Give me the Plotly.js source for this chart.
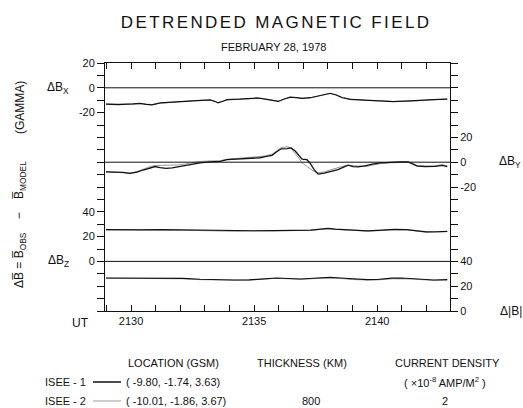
<!DOCTYPE html>
<html><head><meta charset="utf-8">
<script src="https://cdn.plot.ly/plotly-3.0.1.min.js"></script>
<style>html,body{margin:0;padding:0;background:#fff}#chart{width:523px;height:408px}.gtitle{letter-spacing:2.4px}</style>
</head><body><div id="chart"></div><script>
// time in minutes after 21:00 UT
const t_bx = [28.98,29.47,30.08,30.37,30.61,30.85,31.18,31.59,32.11,32.60,33.21,33.41,33.54,33.70,33.90,34.43,35.12,35.33,35.53,35.73,35.98,36.22,36.46,36.71,36.95,37.28,37.60,37.89,38.09,38.33,38.58,38.90,39.59,40.12,40.65,41.34,41.75,42.28,42.85];
const bx_isee1 = [-13.2,-13.5,-13.0,-12.5,-13.3,-13.8,-12.2,-11.8,-10.8,-10.4,-9.8,-11.0,-12.2,-11.0,-9.6,-9.2,-8.2,-8.8,-9.5,-10.5,-11.0,-9.0,-7.5,-8.0,-8.6,-8.0,-6.8,-5.2,-4.4,-5.8,-8.0,-9.3,-10.0,-10.6,-11.2,-10.6,-10.0,-9.5,-9.2];
const bx_isee2 = [-13.0,-13.3,-13.2,-12.8,-13.1,-13.5,-12.5,-11.6,-11.0,-10.2,-10.0,-10.8,-11.8,-11.2,-9.8,-9.0,-8.4,-8.6,-9.3,-10.2,-10.8,-9.3,-7.8,-7.8,-8.4,-8.2,-7.0,-5.5,-4.7,-5.5,-7.6,-9.0,-10.2,-10.4,-11.0,-10.8,-10.2,-9.3,-9.0];

const t_by = [28.98,29.35,29.67,29.96,30.24,30.49,30.77,30.98,31.18,31.42,31.67,31.91,32.20,32.48,32.80,33.21,33.62,33.90,34.35,34.84,35.24,35.45,35.73,35.89,36.10,36.34,36.50,36.67,36.83,36.95,37.15,37.28,37.44,37.60,37.85,38.09,38.41,38.66,38.82,39.02,39.23,39.55,39.80,40.12,40.53,40.93,41.26,41.42,41.63,41.95,42.36,42.64,42.85];
const by_isee1 = [-7.8,-7.9,-8.2,-9.0,-8.0,-6.3,-4.5,-3.5,-4.3,-5.0,-4.6,-3.6,-2.5,-1.5,-0.5,0.3,0.6,2.0,2.6,3.0,3.6,4.5,5.5,8.0,10.8,11.0,11.5,9.0,5.5,2.5,2.0,-1.0,-6.0,-9.6,-8.8,-7.8,-6.0,-3.8,-2.4,-3.6,-3.8,-2.8,-1.5,-0.6,0.0,0.2,0.3,-1.5,-3.2,-3.5,-3.4,-2.6,-3.6];
const by_isee2 = [-7.8,-8.0,-8.2,-8.8,-7.5,-5.5,-3.6,-2.6,-2.6,-2.8,-2.6,-2.2,-1.5,-0.6,0.6,1.0,1.2,2.4,3.0,3.6,4.2,5.0,6.5,9.0,11.8,12.5,11.5,7.0,2.5,-0.5,-3.5,-5.5,-7.5,-8.5,-7.8,-6.2,-4.2,-3.0,-2.6,-2.8,-3.2,-3.4,-2.4,-1.2,-0.5,-0.2,0.0,-1.0,-2.6,-3.0,-2.8,-2.0,-3.0];

const t_bz = [28.98,29.6,30.4,31.2,32.0,32.8,33.4,34.2,35.0,35.8,36.6,37.3,37.6,38.0,38.3,38.7,39.2,39.6,40.2,40.7,41.2,41.6,42.0,42.4,42.85];
const bz_isee1 = [25.6,25.8,25.5,25.7,25.4,25.2,24.8,24.6,24.7,24.8,25.0,25.2,25.9,26.6,26.0,25.6,24.8,24.6,25.2,25.8,25.6,24.8,23.8,23.9,24.2];
const bz_isee2 = [25.4,25.6,25.6,25.5,25.2,24.8,24.4,24.3,24.5,24.6,24.8,25.0,25.6,26.3,25.8,25.2,24.6,24.4,24.9,25.5,25.4,24.5,23.5,23.6,24.0];

const t_bt = [28.98,29.8,30.6,31.4,32.1,32.8,33.5,34.2,34.8,35.4,35.9,36.4,36.9,37.4,37.8,38.1,38.5,39.0,39.6,40.0,40.6,41.0,41.4,41.9,42.3,42.85];
const bt_isee1 = [26.6,26.5,26.4,26.4,26.3,25.6,25.2,25.0,25.1,25.8,26.6,26.2,25.8,26.4,26.7,27.1,26.6,25.8,25.3,25.4,26.5,26.6,26.2,25.5,25.0,25.3];
const bt_isee2 = [26.4,26.3,26.3,26.2,26.0,25.3,24.9,24.8,25.0,25.6,26.3,26.0,25.5,26.1,26.5,26.8,26.3,25.4,25.0,25.1,26.0,26.2,25.8,25.2,24.7,25.0];

const xTickVals = [30,35,40];
const xTickLabels = ['2130','2135','2140'];
const bxTicks = [20,0,-20], byTicks = [20,0,-20], bzTicks = [40,20,0], btTicks = [40,20,0];

const satellites = ['ISEE - 1','ISEE - 2'];
const locations = ['( -9.80, -1.74, 3.63)','( -10.01, -1.86, 3.67)'];
const thickness = ['800'];
const density = ['2'];

const FONT = 'Liberation Sans, Arial, Helvetica, sans-serif';
const L=105,R=450,T=63,B=311;
const PX = x => (x-L)/(R-L);
const PY = y => (B-y)/(B-T);

function range(a,b,s){const o=[];for(let v=a;v<=b+1e-9;v+=s)o.push(Math.round(v*100)/100);return o;}
const without = (vals, excl) => vals.filter(v=>!excl.includes(v));

const xMinor = without(range(29,42,1), xTickVals);
const ylMinor = without(range(-180,20,10), bxTicks);
const yrMinor = without(range(-120,80,10), byTicks);

const gray = '#9a9a9a', black = '#111';
function tr(x,y,ya,c,w){return {x:x,y:y,yaxis:ya,type:'scatter',mode:'lines',line:{color:c,width:w},hoverinfo:'skip',showlegend:false};}
const data = [
  tr(t_bx,bx_isee2,'y',gray,1), tr(t_bx,bx_isee1,'y',black,1.2),
  tr(t_by,by_isee2,'y2',gray,1), tr(t_by,by_isee1,'y2',black,1.3),
  tr(t_bz,bz_isee2,'y3',gray,1), tr(t_bz,bz_isee1,'y3',black,1.2),
  tr(t_bt,bt_isee2,'y4',gray,1), tr(t_bt,bt_isee1,'y4',black,1.2)
];

const tf = {family:FONT,size:11,color:'#111'};
const baseY = {showgrid:false,zeroline:false,ticks:'outside',ticklen:7,tickwidth:1,tickcolor:'#111',tickfont:tf,tickmode:'array',fixedrange:true};

function ann(x,y,text,opt){return Object.assign({xref:'paper',yref:'paper',x:PX(x),y:PY(y),text:text,showarrow:false,font:{family:FONT,size:11,color:'#111'},xanchor:'center',yanchor:'middle'},opt||{});}
const f12 = {family:FONT,size:12,color:'#111'};

const nb='\u00A0';
const annotations = [
  ann(273,47,'FEBRUARY 28, 1978'),
  {xref:'paper',yref:'y',x:PX(58),y:0,text:'ΔB<sub>X</sub>',showarrow:false,xanchor:'center',yanchor:'middle',font:f12},
  {xref:'paper',yref:'y3',x:PX(58),y:0,text:'ΔB<sub>Z</sub>',showarrow:false,xanchor:'center',yanchor:'middle',font:f12},
  {xref:'paper',yref:'y2',x:PX(510),y:0,text:'ΔB<sub>Y</sub>',showarrow:false,xanchor:'center',yanchor:'middle',font:f12},
  {xref:'paper',yref:'y4',x:PX(511),y:0,text:'Δ|B|',showarrow:false,xanchor:'center',yanchor:'middle',font:f12},
  ann(20,108,'(GAMMA)',{textangle:-90,font:f12}),
  ann(20,225,'ΔB\u0305 = B\u0305<sub>OBS</sub>'+nb+nb+nb+nb+'−'+nb+nb+nb+nb+'B\u0305<sub>MODEL</sub>',{textangle:-90,font:f12}),
  ann(80,323,'UT',{font:f12}),
  ann(173,363,'LOCATION (GSM)'),
  ann(302,363,'THICKNESS (KM)'),
  ann(447,363,'CURRENT DENSITY'),
  ann(65,382,satellites[0]),
  ann(65,401,satellites[1]),
  ann(124,382,locations[0],{xanchor:'left'}),
  ann(124,401,locations[1],{xanchor:'left'}),
  ann(445,382,'( ×10<sup>-8</sup> AMP/M<sup>2</sup> )'),
  ann(311,401,thickness[0]),
  ann(445,401,density[0])
];

const shapes = [
  {type:'line',xref:'paper',x0:0,x1:1,yref:'y',y0:0,y1:0,line:{color:'#111',width:1}},
  {type:'line',xref:'paper',x0:0,x1:1,yref:'y2',y0:0,y1:0,line:{color:'#111',width:1}},
  {type:'line',xref:'paper',x0:0,x1:1,yref:'y3',y0:0,y1:0,line:{color:'#111',width:1}},
  {type:'line',xref:'paper',yref:'paper',x0:PX(93),x1:PX(121),y0:PY(382),y1:PY(382),line:{color:'#111',width:1.5}},
  {type:'line',xref:'paper',yref:'paper',x0:PX(93),x1:PX(121),y0:PY(401),y1:PY(401),line:{color:gray,width:1}}
];

const minorY = vals => ({tickmode:'array',tickvals:vals,ticks:'outside',ticklen:7,tickwidth:1,tickcolor:'#111',showgrid:false});

const layout = {
  width:523,height:408,
  margin:{l:L,r:523-R,t:T,b:408-B,pad:0},
  paper_bgcolor:'#fff',plot_bgcolor:'#fff',
  font:{family:FONT,color:'#111'},
  title:{text:'DETRENDED MAGNETIC FIELD',x:0.528,xanchor:'center',y:1-22/408,yanchor:'middle',yref:'container',font:{family:FONT,size:17,color:'#111'}},
  showlegend:false,
  hovermode:false,
  xaxis:{range:[28.94,42.96],showgrid:false,zeroline:false,showline:true,linecolor:'#111',linewidth:1,mirror:'ticks',
    ticks:'inside',ticklen:6,tickcolor:'#111',tickmode:'array',tickvals:xTickVals,ticktext:xTickLabels,tickfont:tf,fixedrange:true,
    minor:{tickmode:'array',tickvals:xMinor,ticks:'inside',ticklen:6,tickcolor:'#111',tickwidth:1,showgrid:false}},
  yaxis:Object.assign({},baseY,{range:[-180,20],side:'left',showline:true,linecolor:'#111',linewidth:1,tickvals:bxTicks,ticktext:bxTicks.map(String),minor:minorY(ylMinor)}),
  yaxis3:Object.assign({},baseY,{range:[-40,160],side:'left',overlaying:'y',showline:false,tickvals:bzTicks,ticktext:bzTicks.map(String)}),
  yaxis2:Object.assign({},baseY,{range:[-120,80],side:'right',overlaying:'y',showline:true,linecolor:'#111',linewidth:1,tickvals:byTicks,ticktext:byTicks.map(String),minor:minorY(yrMinor)}),
  yaxis4:Object.assign({},baseY,{range:[0,200],side:'right',overlaying:'y',showline:false,tickvals:btTicks,ticktext:btTicks.map(String)}),
  annotations:annotations,
  shapes:shapes
};

Plotly.newPlot('chart',data,layout,{staticPlot:true,displayModeBar:false});
</script></body></html>
